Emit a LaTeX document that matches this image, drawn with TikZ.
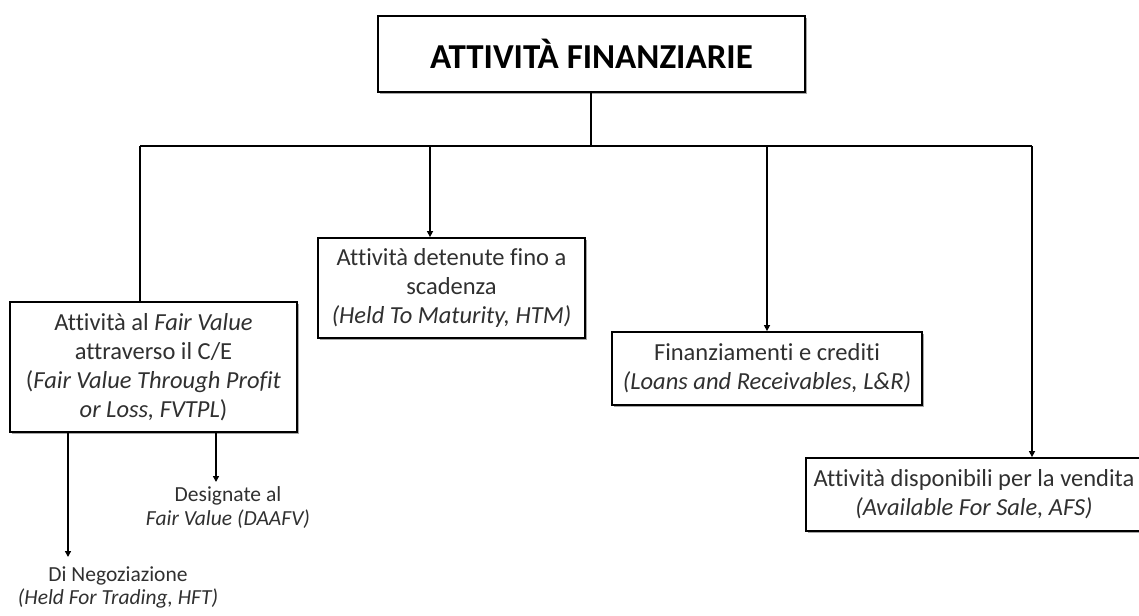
\documentclass[tikz,border=0pt]{standalone}
\usepackage{fontspec}
\setmainfont{Carlito}[Ligatures=NoCommon]
\usetikzlibrary{arrows.meta,shadows}
\definecolor{bodytext}{HTML}{303030}
\begin{document}
\begin{tikzpicture}[x=1pt,y=-1pt,
  box/.style={draw=black, line width=1.8pt, fill=white, inner sep=0pt,
    align=center, text=bodytext,
    font=\fontsize{24.5}{29}\selectfont,
    drop shadow={shadow xshift=1.8pt, shadow yshift=-1.8pt, opacity=0.35, fill=black}},
  titlebox/.style={box, text=black, font=\fontsize{35}{40}\selectfont\bfseries},
  leaf/.style={inner sep=0pt, align=center, text=bodytext,
    font=\fontsize{21.5}{24}\selectfont},
  link/.style={draw=black, line width=1.4pt},
  arr/.style={link, -{Triangle[length=6pt,width=6pt]}}]
  \useasboundingbox (0,0) rectangle (1139,615);
  \clip (0,0) rectangle (1139,615);

  % root
  \node[titlebox, minimum width=427pt, minimum height=76pt] (root) at (591.5,54)
    {ATTIVITÀ FINANZIARIE};

  % categories
  \node[box, minimum width=287pt, minimum height=130pt] (fv) at (153.5,367)
    {Attività al \textit{Fair Value}\\attraverso il C/E\\(\textit{Fair Value Through Profit}\\\textit{or Loss, FVTPL})};
  \node[box, minimum width=267pt, minimum height=100pt] (htm) at (451.5,288)
    {Attività detenute fino a\\scadenza\\\textit{(Held To Maturity, HTM)}};
  \node[box, minimum width=310pt, minimum height=73pt] (lr) at (767,368.5)
    {Finanziamenti e crediti\\\textit{(Loans and Receivables, L\&R)}};
  \node[box, minimum width=336pt, minimum height=73pt] (afs) at (974,494.5)
    {Attività disponibili per la vendita\\\textit{(Available For Sale, AFS)}};

  % sub-categories of FVTPL
  \node[leaf, anchor=north] (daafv) at (228,486)
    {Designate al\\\textit{Fair Value (DAAFV)}};
  \node[leaf, anchor=north] (hft) at (118,566)
    {Di Negoziazione\\\textit{(Held For Trading, HFT)}};

  % tree junctions
  \coordinate (bus) at (591,146);
  \coordinate (jfv) at (140,146);
  \coordinate (jhtm) at (430,146);
  \coordinate (jlr) at (767,146);
  \coordinate (jafs) at (1032,146);
  \coordinate (ohft) at (68,0);
  \coordinate (odaafv) at (216,0);

  \draw[link] (root.south -| bus) -- (bus);
  \draw[link] (jfv) -- (jafs);
  \draw[link] (jfv) -- (jfv |- fv.north);
  \draw[arr] (jhtm) -- (jhtm |- htm.north);
  \draw[arr] (jlr) -- (jlr |- lr.north);
  \draw[arr] (jafs) -- (jafs |- afs.north);

  \draw[arr, shorten >=9pt] (fv.south -| ohft) -- (ohft |- hft.north);
  \draw[arr, shorten >=4pt] (fv.south -| odaafv) -- (odaafv |- daafv.north);
\end{tikzpicture}
\end{document}
